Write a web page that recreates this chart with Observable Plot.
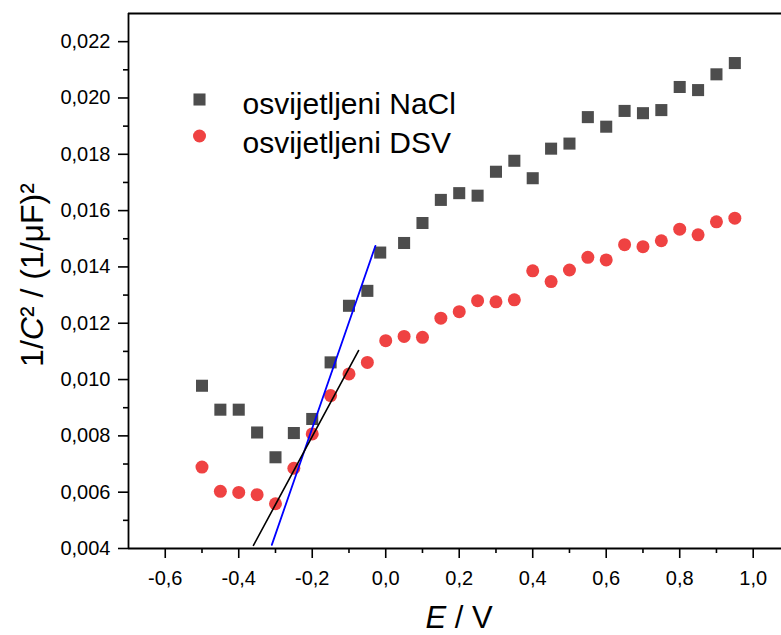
<!DOCTYPE html>
<html><head><meta charset="utf-8">
<script src="https://cdn.jsdelivr.net/npm/d3@7"></script>
<script src="https://cdn.jsdelivr.net/npm/@observablehq/plot@0.6"></script>
<style>
body{margin:0;background:#fff;}
#chart{width:781px;height:635px;overflow:hidden;}
</style></head><body><div id="chart"></div>
<script>
// Data
const E_nacl = [-0.50,-0.45,-0.40,-0.35,-0.30,-0.25,-0.20,-0.15,-0.10,-0.05,-0.015,0.05,0.10,0.15,0.20,0.25,0.30,0.35,0.40,0.45,0.50,0.55,0.60,0.65,0.70,0.75,0.80,0.85,0.90,0.95];
const C_nacl = [0.00978,0.00893,0.00893,0.00812,0.00724,0.00810,0.00860,0.01061,0.01262,0.01315,0.01451,0.01485,0.01556,0.01638,0.01662,0.01653,0.01738,0.01777,0.01715,0.01820,0.01838,0.01932,0.01898,0.01954,0.01946,0.01957,0.02039,0.02028,0.02084,0.02124];
const E_dsv = [-0.50,-0.45,-0.40,-0.35,-0.30,-0.25,-0.20,-0.15,-0.10,-0.05,0.00,0.05,0.10,0.15,0.20,0.25,0.30,0.35,0.40,0.45,0.50,0.55,0.60,0.65,0.70,0.75,0.80,0.85,0.90,0.95];
const C_dsv = [0.00689,0.00603,0.00599,0.00591,0.00559,0.00685,0.00807,0.00943,0.01020,0.01061,0.01138,0.01153,0.01150,0.01218,0.01241,0.01280,0.01276,0.01283,0.01386,0.01348,0.01389,0.01434,0.01425,0.01479,0.01472,0.01493,0.01534,0.01514,0.01560,0.01573];
const E_blueFit = [-0.310, -0.028];
const C_blueFit = [0.00413, 0.01475];
const E_blackFit = [-0.360, -0.074];
const C_blackFit = [0.00411, 0.01103];
const legendLabels = ["osvijetljeni NaCl", "osvijetljeni DSV"];
const xDomain = [-0.7, 1.077];
const yDomain = [0.004, 0.023];
const xMajor = [-0.6,-0.4,-0.2,0.0,0.2,0.4,0.6,0.8,1.0];
const xMinor = [-0.5,-0.3,-0.1,0.1,0.3,0.5,0.7,0.9];
const yMajor = [0.004,0.006,0.008,0.010,0.012,0.014,0.016,0.018,0.020,0.022];
const yMinor = [0.005,0.007,0.009,0.011,0.013,0.015,0.017,0.019,0.021];

const nacl = E_nacl.map((e,i)=>({E:e, C:C_nacl[i]}));
const dsv = E_dsv.map((e,i)=>({E:e, C:C_dsv[i]}));
const blueFit = E_blueFit.map((e,i)=>({E:e, C:C_blueFit[i]}));
const blackFit = E_blackFit.map((e,i)=>({E:e, C:C_blackFit[i]}));

const fmtX = d => d.toFixed(1).replace(".", ",");
const fmtY = d => d.toFixed(3).replace(".", ",");
const sqColor = "#4d4d4d", redColor = "#ef4242";

const plot = Plot.plot({
  width: 781, height: 635,
  marginTop: 13, marginBottom: 87, marginLeft: 128, marginRight: 0,
  style: {fontFamily: '"Liberation Sans", Arial, sans-serif', fontSize: "20px", color: "black", background: "white", overflow: "visible"},
  x: {domain: xDomain},
  y: {domain: yDomain},
  marks: [
    Plot.axisX(xMajor, {tickSize: 10, tickPadding: 12, strokeWidth: 1.6, tickFormat: fmtX, label: null, fontSize: 20}),
    Plot.axisX(xMinor, {tickSize: 5, text: null, strokeWidth: 1.6, label: null}),
    Plot.axisY(yMajor, {tickSize: 10, tickPadding: 8, strokeWidth: 1.6, tickFormat: fmtY, label: null, fontSize: 20}),
    Plot.axisY(yMinor, {tickSize: 5, text: null, strokeWidth: 1.6, label: null}),
    Plot.ruleY([yDomain[0]], {strokeWidth: 1.8, stroke: "black"}),
    Plot.ruleY([yDomain[1]], {strokeWidth: 1.8, stroke: "black"}),
    Plot.ruleX([xDomain[0]], {strokeWidth: 1.8, stroke: "black"}),
    Plot.dot(nacl, {x: "E", y: "C", symbol: "square", r: 6.8, fill: sqColor}),
    Plot.dot(dsv, {x: "E", y: "C", symbol: "circle", r: 6.5, fill: redColor}),
    Plot.line(blueFit, {x: "E", y: "C", stroke: "#0000ff", strokeWidth: 1.8}),
    Plot.line(blackFit, {x: "E", y: "C", stroke: "#000000", strokeWidth: 1.6}),
    Plot.dot([legendLabels[0]], {frameAnchor: "top-left", dx: 71, dy: 86, symbol: "square", r: 6.8, fill: sqColor}),
    Plot.dot([legendLabels[1]], {frameAnchor: "top-left", dx: 71, dy: 122.5, symbol: "circle", r: 6.5, fill: redColor}),
    Plot.text([legendLabels[0]], {text: d => d, frameAnchor: "top-left", dx: 114, dy: 100, textAnchor: "start", lineAnchor: "bottom", fontSize: 30, fill: "black"}),
    Plot.text([legendLabels[1]], {text: d => d, frameAnchor: "top-left", dx: 114, dy: 139, textAnchor: "start", lineAnchor: "bottom", fontSize: 30, fill: "black"})
  ]
});

const svg = d3.select(plot);
const yt = svg.append("text")
  .attr("transform", "translate(43,275) rotate(-90)")
  .attr("text-anchor", "middle")
  .attr("fill", "black")
  .style("font-size", "32px");
yt.append("tspan").text("1/");
yt.append("tspan").attr("font-style", "italic").text("C");
yt.append("tspan").text("² / (1/μF)²");

const xt = svg.append("text")
  .attr("transform", "translate(459,628)")
  .attr("text-anchor", "middle")
  .attr("fill", "black")
  .style("font-size", "31px");
xt.append("tspan").attr("font-style", "italic").text("E");
xt.append("tspan").text(" / V");

document.getElementById("chart").appendChild(plot);
</script>
</body></html>
